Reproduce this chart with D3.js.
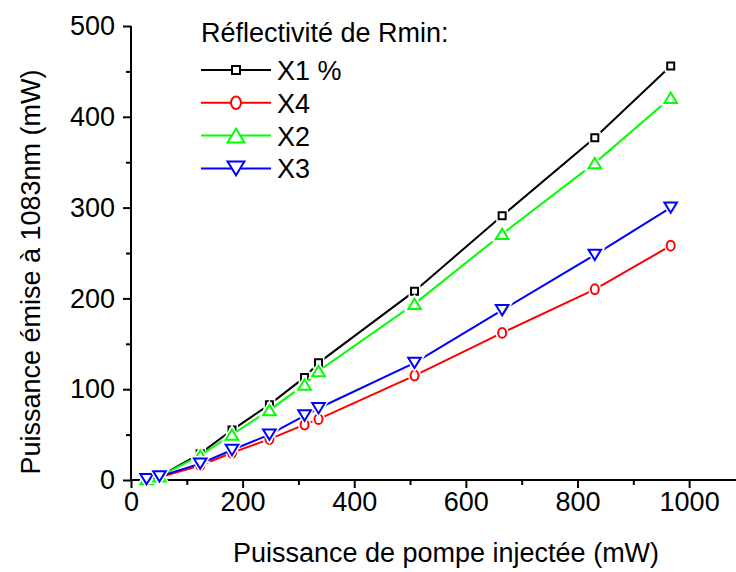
<!DOCTYPE html>
<html>
<head>
<meta charset="utf-8">
<script src="https://cdn.jsdelivr.net/npm/d3@7"></script>
<style>
  body { margin: 0; background: #ffffff; }
  svg { display: block; font-family: "Liberation Sans", Arial, sans-serif; }
</style>
</head>
<body>
<svg id="chart" width="736" height="572"></svg>
<script>
// pump power (mW) shared by every series
const pumpPower = [28, 51, 124, 181, 248, 311, 336, 508, 665, 831, 967];

const seriesNames = ["X1 %", "X4", "X2", "X3"];
const powerX1 = [1, 4, 29, 55, 83, 113, 129, 208, 291, 377, 456];
const powerX4 = [1, 3, 16, 30, 45, 61, 67, 115, 162, 210, 258];
const powerX2 = [1, 4, 27, 50, 77, 105, 120, 194, 271, 349, 421];
const powerX3 = [1, 4, 18, 33, 50, 71, 79, 129, 187, 248, 300];

const xTicks = [0, 200, 400, 600, 800, 1000];
const yTicks = [0, 100, 200, 300, 400, 500];

const legendTitle = "Réflectivité de Rmin:";
const xTitle = "Puissance de pompe injectée (mW)";
const yTitle = "Puissance émise à 1083nm (mW)";

const colors = ["#000000", "#ff0000", "#00ff00", "#0000ff"];
const shapes = ["square", "circle", "up", "down"];
const values = [powerX1, powerX4, powerX2, powerX3];

const svg = d3.select("#chart");
const fontSize = 27;

const x = d3.scaleLinear().domain([0, 1084]).range([131, 736]);
const y = d3.scaleLinear().domain([0, 500]).range([480, 26]);

// marker path, centred on 0,0
function markerPath(shape, s) {
  if (shape === "square") {
    return `M${-s/2},${-s/2}h${s}v${s}h${-s}Z`;
  }
  if (shape === "circle") {
    let rx = s * 0.5, ry = s * 0.62;
    return `M${-rx},0a${rx},${ry} 0 1,0 ${2*rx},0a${rx},${ry} 0 1,0 ${-2*rx},0Z`;
  }
  let w = s * 1.4, h = s * 1.15;
  if (shape === "up") {
    return `M0,${-h/2}L${w/2},${h/2}L${-w/2},${h/2}Z`;
  }
  return `M0,${h/2}L${w/2},${-h/2}L${-w/2},${-h/2}Z`;
}

// axes
const xAxis = d3.axisBottom(x)
  .tickValues(d3.range(0, 1084, 100))
  .tickSize(8)
  .tickFormat(d => xTicks.includes(d) ? d : "");

const gx = svg.append("g")
  .attr("transform", `translate(0,${y(0)})`)
  .call(xAxis);
gx.select(".domain").attr("d", `M${x(0)},0H736`).attr("stroke-width", 2);
gx.selectAll(".tick line")
  .attr("stroke-width", 2)
  .attr("y2", d => xTicks.includes(d) ? 8 : 5);
gx.selectAll(".tick text")
  .attr("y", 12)
  .attr("font-size", fontSize)
  .attr("font-family", "Liberation Sans, Arial, sans-serif")
  .attr("fill", "#000");

const yAxis = d3.axisLeft(y)
  .tickValues(d3.range(0, 501, 50))
  .tickSize(8)
  .tickFormat(d => yTicks.includes(d) ? d : "");

const gy = svg.append("g")
  .attr("transform", `translate(${x(0)},0)`)
  .call(yAxis);
gy.select(".domain").attr("d", `M0,${y(500)}V${y(0)}`).attr("stroke-width", 2);
gy.selectAll(".tick line")
  .attr("stroke-width", 2)
  .attr("x2", d => yTicks.includes(d) ? -8 : -5);
gy.selectAll(".tick text")
  .attr("x", -16)
  .attr("font-size", fontSize)
  .attr("font-family", "Liberation Sans, Arial, sans-serif")
  .attr("fill", "#000");

// axis titles
svg.append("text")
  .attr("x", 446)
  .attr("y", 562)
  .attr("text-anchor", "middle")
  .attr("font-size", fontSize)
  .text(xTitle);

svg.append("text")
  .attr("transform", `translate(40,272) rotate(-90)`)
  .attr("text-anchor", "middle")
  .attr("font-size", fontSize)
  .text(yTitle);

// series
const line = d3.line()
  .x((d, i) => x(pumpPower[i]))
  .y(d => y(d));

values.forEach((vals, k) => {
  let g = svg.append("g").attr("class", `series-${k}`);

  g.append("path")
    .attr("d", line(vals))
    .attr("fill", "none")
    .attr("stroke", colors[k])
    .attr("stroke-width", 2);

  let size = shapes[k] === "square" ? 7 : (shapes[k] === "circle" ? 8 : 9);

  let pts = g.selectAll(".pt")
    .data(vals)
    .enter().append("g")
    .attr("class", "pt")
    .attr("transform", (d, i) => `translate(${x(pumpPower[i])},${y(d)})`);

  // white halo so the line stops short of the marker
  pts.append("path")
    .attr("d", markerPath(shapes[k], size))
    .attr("fill", "#ffffff")
    .attr("stroke", "#ffffff")
    .attr("stroke-width", 5);

  pts.append("path")
    .attr("d", markerPath(shapes[k], size))
    .attr("fill", "#ffffff")
    .attr("stroke", colors[k])
    .attr("stroke-width", 2);
});

// legend
const legend = svg.append("g").attr("class", "legend");

legend.append("text")
  .attr("x", 201)
  .attr("y", 42)
  .attr("font-size", fontSize)
  .text(legendTitle);

seriesNames.forEach((name, k) => {
  let cy = 70 + k * 32.8;
  let row = legend.append("g").attr("transform", `translate(0,${cy})`);

  row.append("line")
    .attr("x1", 201).attr("x2", 271)
    .attr("y1", 0).attr("y2", 0)
    .attr("stroke", colors[k])
    .attr("stroke-width", 2);

  let size = shapes[k] === "square" ? 8 : (shapes[k] === "circle" ? 10 : 12);
  row.append("path")
    .attr("transform", "translate(236,0)")
    .attr("d", markerPath(shapes[k], size))
    .attr("fill", "#ffffff")
    .attr("stroke", colors[k])
    .attr("stroke-width", 2);

  row.append("text")
    .attr("x", 277)
    .attr("y", 10)
    .attr("font-size", fontSize)
    .text(name);
});
</script>
</body>
</html>
